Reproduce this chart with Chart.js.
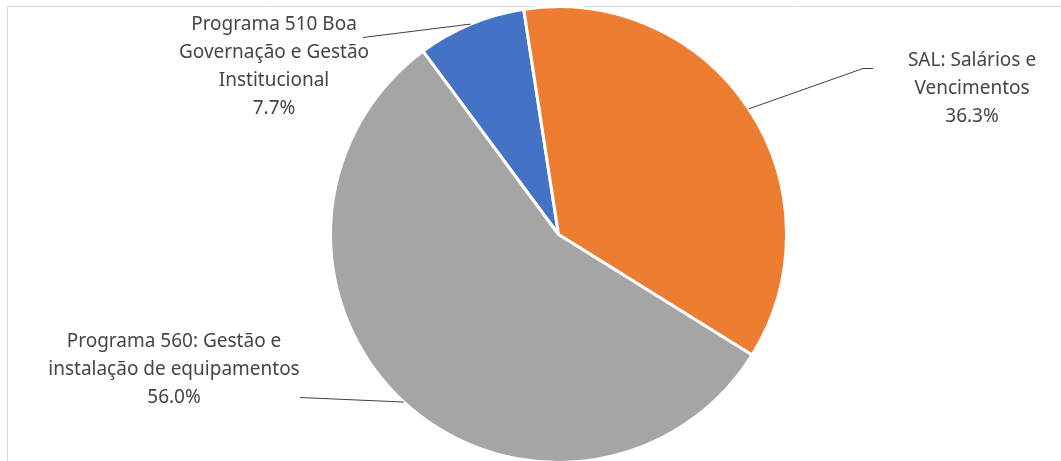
<!DOCTYPE html>
<html>
<head>
<meta charset="utf-8">
<script src="https://cdn.jsdelivr.net/npm/chart.js@4.4.1/dist/chart.umd.min.js"></script>
<style>
  html, body { margin: 0; padding: 0; background: #fff; overflow: hidden; }
  #wrap { position: relative; width: 1061px; height: 470px; }
</style>
</head>
<body>
<div id="wrap"><canvas id="ctx"></canvas></div>
<script>
// dados do gráfico (percentagens)
const categorias = [
    ['Programa 510 Boa', 'Governação e Gestão', 'Institucional'],
    ['SAL: Salários e', 'Vencimentos'],
    ['Programa 560: Gestão e', 'instalação de equipamentos']
];
const valores = [7.7, 36.3, 56.0];
const cores = ['#4472c4', '#ed7d31', '#a5a5a5'];

// posição das etiquetas (centro da primeira linha) e início da linha de chamada
const etiquetas = [
    { x: 274, y: 25, lx: 363, ly: 37, stub: 0 },
    { x: 972, y: 61, lx: 873, ly: 68, stub: 10 },
    { x: 174, y: 342, lx: 300, ly: 397, stub: 0 }
];

const fonte = '19px "Noto Sans"';
const corTexto = '#454545';

const molduraPlugin = {
    id: 'moldura',
    beforeDraw(chart) {
        const c = chart.ctx;
        c.save();
        c.strokeStyle = '#d9d9d9';
        c.lineWidth = 1;
        c.beginPath();
        c.moveTo(7.5, chart.height);
        c.lineTo(7.5, 6.5);
        c.lineTo(chart.width, 6.5);
        c.stroke();
        c.restore();
    }
};

const etiquetasPlugin = {
    id: 'etiquetas',
    afterDatasetsDraw(chart) {
        const c = chart.ctx;
        const meta = chart.getDatasetMeta(0);
        const total = valores.reduce((a, b) => a + b, 0);
        c.save();
        meta.data.forEach((arc, i) => {
            const p = arc.getProps(['x', 'y', 'startAngle', 'endAngle', 'outerRadius'], true);
            const mid = (p.startAngle + p.endAngle) / 2;
            const ex = p.x + Math.cos(mid) * p.outerRadius;
            const ey = p.y + Math.sin(mid) * p.outerRadius;
            const e = etiquetas[i];

            // linha de chamada
            c.strokeStyle = '#404040';
            c.lineWidth = 1;
            c.beginPath();
            c.moveTo(e.lx, e.ly + 0.5);
            c.lineTo(e.lx - e.stub, e.ly + 0.5);
            c.lineTo(ex, ey);
            c.stroke();

            // texto
            const linhas = categorias[i].concat([(valores[i] / total * 100).toFixed(1) + '%']);
            c.font = fonte;
            c.fillStyle = corTexto;
            c.textAlign = 'center';
            c.textBaseline = 'middle';
            linhas.forEach((t, k) => c.fillText(t, e.x, e.y + k * 28));
        });
        c.restore();
    }
};

const config = {
    type: 'pie',
    data: {
        labels: categorias.map(l => l.join(' ')),
        datasets: [{
            data: valores,
            backgroundColor: cores,
            borderColor: '#ffffff',
            borderWidth: 3,
        }]
    },
    options: {
        responsive: true,
        maintainAspectRatio: false,
        animation: false,
        rotation: -36.5,
        layout: {
            padding: { top: 5, bottom: 6, left: 329, right: 273 }
        },
        plugins: {
            legend: { display: false },
            tooltip: { enabled: false },
            title: { display: false }
        }
    },
    plugins: [molduraPlugin, etiquetasPlugin]
};

const grafico = new Chart(document.getElementById('ctx').getContext('2d'), config);
</script>
</body>
</html>
